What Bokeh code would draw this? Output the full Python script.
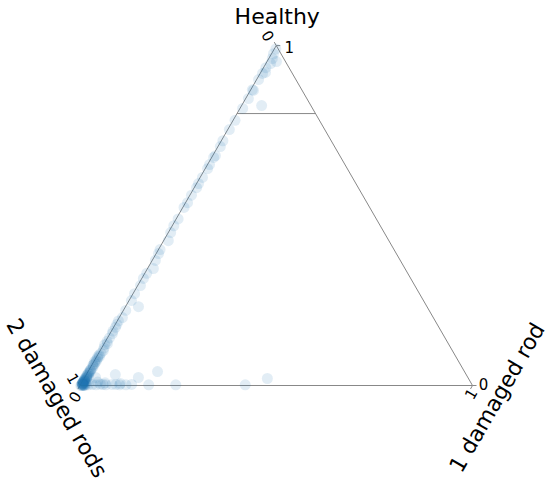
import math
from bokeh.plotting import figure
from bokeh.models import Range1d, Label, ColumnDataSource
from bokeh.embed import file_html
from bokeh.resources import INLINE

# ---- data (ternary fractions) ----
healthy = [0.976, 0.962, 0.947, 0.953, 0.921, 0.918, 0.868, 0.844, 0.8235, 0.815,
           0.753, 0.703, 0.676, 0.671, 0.638, 0.612, 0.594, 0.582, 0.538, 0.524,
           0.45, 0.426, 0.388, 0.368, 0.344, 0.315, 0.294, 0.232, 0.221, 0.2,
           0.171, 0.153, 0.1235, 0.103,
           0.99, 0.935, 0.90, 0.87, 0.78, 0.72, 0.65, 0.56, 0.49, 0.47,
           0.40, 0.33, 0.27, 0.25, 0.18, 0.14, 0.13, 0.11,
           0.095, 0.09, 0.085, 0.08, 0.075, 0.07, 0.065, 0.06, 0.055, 0.05,
           0.045, 0.04, 0.035, 0.03, 0.028, 0.025, 0.022, 0.02, 0.018, 0.015,
           0.012, 0.01, 0.008, 0.006, 0.004, 0.002, 0.0, 0.0, 0.001, 0.003,
           0.005, 0.01,
           0.0235, 0.032, 0.0235, 0.041, 0.0206, 0.003, 0.003, 0.002, 0.002, 0.002,
           0.002, 0.002, 0.003, 0.002, 0.004, 0.002, 0.003, 0.002, 0.003, 0.01,
           0.008, 0.006,
           0.06, 0.045, 0.035, 0.025, 0.015, 0.01, 0.005, 0.003, 0.001, 0.0,
           0.02, 0.012, 0.007, 0.004, 0.002, 0.0, 0.008, 0.016, 0.03, 0.04,
           0.19, 0.16, 0.12, 0.085, 0.07]
one_rod = [0.005, 0.009, 0.012, 0.024, 0.012, 0.006, 0.008, 0.007, 0.051, 0.007,
           0.004, 0.006, 0.007, 0.005, 0.006, 0.006, 0.005, 0.006, 0.005, 0.003,
           0.006, 0.012, 0.006, 0.008, 0.015, 0.004, 0.007, 0.033, 0.006, 0.008,
           0.005, 0.006, 0.008, 0.008,
           0.004, 0.006, 0.005, 0.004, 0.005, 0.004, 0.005, 0.004, 0.005, 0.004,
           0.004, 0.005, 0.004, 0.006, 0.004, 0.005, 0.004, 0.006,
           0.006, 0.004, 0.007, 0.005, 0.004, 0.006, 0.005, 0.004, 0.006, 0.005,
           0.004, 0.006, 0.005, 0.004, 0.008, 0.005, 0.006, 0.003, 0.007, 0.004,
           0.006, 0.003, 0.005, 0.004, 0.006, 0.003, 0.002, 0.005, 0.01, 0.015,
           0.012, 0.01,
           0.028, 0.074, 0.137, 0.177, 0.467, 0.057, 0.08, 0.116, 0.174, 0.243,
           0.42, 0.02, 0.03, 0.04, 0.05, 0.065, 0.09, 0.1, 0.13, 0.04,
           0.06, 0.1,
           0.003, 0.004, 0.003, 0.004, 0.003, 0.004, 0.003, 0.006, 0.008, 0.012,
           0.002, 0.003, 0.002, 0.004, 0.006, 0.008, 0.002, 0.003, 0.002, 0.003,
           0.003, 0.004, 0.003, 0.003, 0.002]
two_rods = [1.0 - h - r for h, r in zip(healthy, one_rod)]

threshold = 0.8
tick_values = ["0", "1"]
top_label = "Healthy"
left_label = "2 damaged rods"
right_label = "1 damaged rod"

S3 = math.sqrt(3) / 2


def to_xy(h, r1):
    return r1 + h / 2.0, h * S3


xs, ys = zip(*[to_xy(h, r) for h, r in zip(healthy, one_rod)])

PX = 392.5  # pixels per unit
W, H = 550, 484
x0 = -79.5 / PX
y0 = -99.0 / PX
p = figure(width=W, height=H, output_backend="svg", toolbar_location=None,
           x_range=Range1d(x0, x0 + W / PX), y_range=Range1d(y0, y0 + H / PX),
           min_border=0, min_border_left=0, min_border_right=0,
           min_border_top=0, min_border_bottom=0)
p.axis.visible = False
p.grid.visible = False
p.outline_line_color = None
p.background_fill_color = "white"
p.border_fill_color = "white"

edge = "#888888"
vL = (0.0, 0.0)
vR = (1.0, 0.0)
vT = (0.5, S3)
p.line([vL[0], vR[0], vT[0], vL[0]], [vL[1], vR[1], vT[1], vL[1]],
       line_color=edge, line_width=1)

# threshold line (Healthy = 0.8)
a = to_xy(threshold, 0.0)
b = to_xy(threshold, 1 - threshold)
p.line([a[0], b[0]], [a[1], b[1]], line_color=edge, line_width=1)

# small tick marks at vertices
tl = 4.0 / PX
def tick(v, ang):
    return v[0], v[1], v[0] + tl * math.cos(math.radians(ang)), v[1] + tl * math.sin(math.radians(ang))
ticks = [tick(vT, 0), tick(vR, 0), tick(vT, 120), tick(vL, 120), tick(vL, 240), tick(vR, 240)]
p.segment([t[0] for t in ticks], [t[1] for t in ticks], [t[2] for t in ticks], [t[3] for t in ticks],
          line_color=edge, line_width=1)

src = ColumnDataSource(dict(x=list(xs), y=list(ys)))
p.scatter("x", "y", source=src, size=11, fill_color="#1f77b4", fill_alpha=0.13,
          line_alpha=0)

FONT = "DejaVu Sans"


def lab(v, text, dx, dy, size, angle=0.0):
    p.add_layout(Label(x=v[0], y=v[1], x_offset=dx, y_offset=dy, text=text,
                       text_font=FONT, text_font_size=f"{size}px",
                       text_align="center", text_baseline="middle",
                       angle=math.radians(angle), text_color="black"))


lab(vT, top_label, 1, 29, 22)
lab(vL, left_label, -23, -12.5, 22, -60)
lab(vR, right_label, 24.5, -12, 22, 60)

# tick labels
lab(vT, tick_values[1], 13, -1, 15)
lab(vR, tick_values[0], 11, 2, 15)
lab(vT, tick_values[0], -8, 10, 15, -60)
lab(vL, tick_values[1], -6.5, 7, 15, -60)
lab(vL, tick_values[0], -5.5, -11, 15, 60)
lab(vR, tick_values[1], -2, -8, 15, 60)

open("out.html", "w").write(file_html(p, INLINE))
